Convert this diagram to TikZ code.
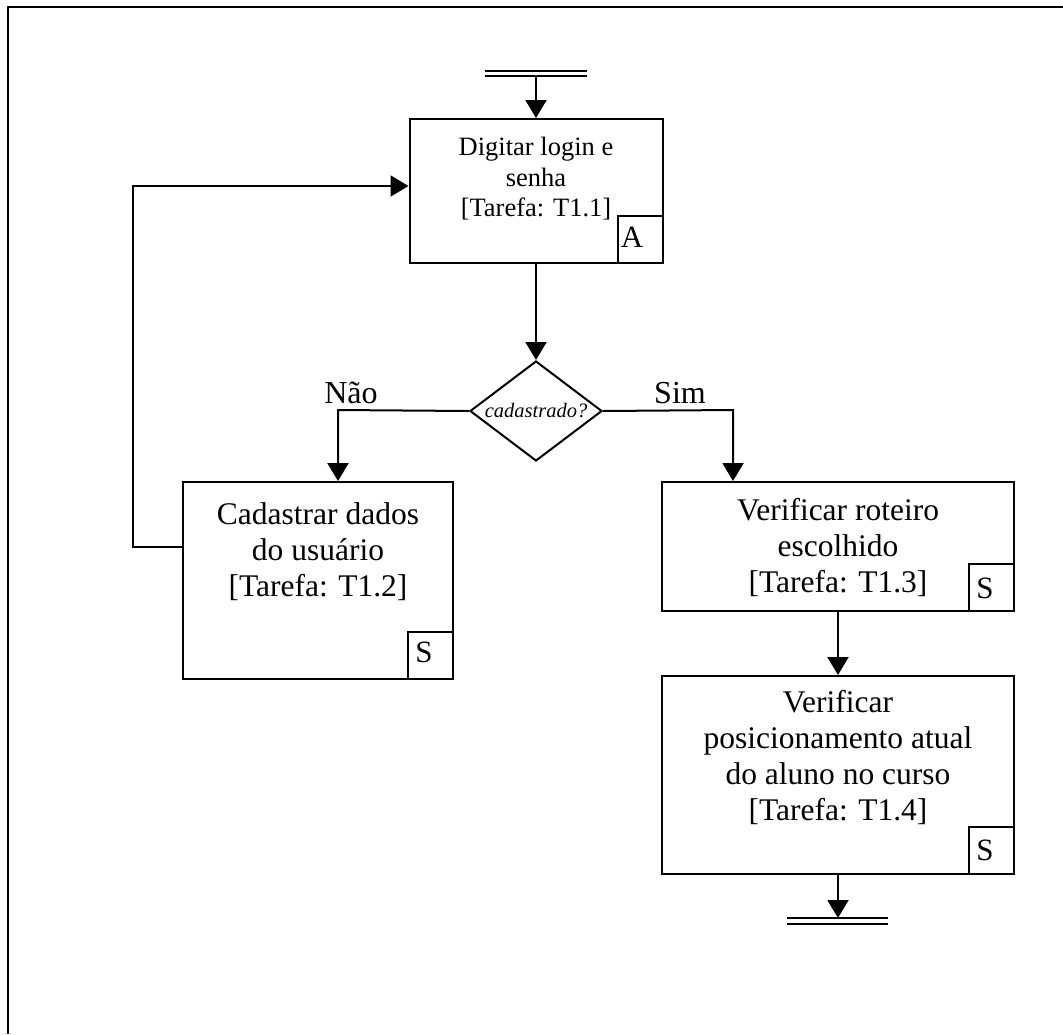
\documentclass[tikz,border=0pt]{standalone}
\usepackage{fontspec}
\setmainfont{Liberation Serif}
\usetikzlibrary{arrows.meta,shapes.geometric}
\begin{document}
\begin{tikzpicture}[x=1pt,y=-1pt,
  line width=2pt,
  arr/.style={-{Triangle[length=18pt,width=21pt]}},
  task/.style={draw, rectangle, inner sep=0pt},
  tag/.style={draw, rectangle, inner sep=0pt, minimum width=45pt, minimum height=47pt, anchor=south east},
  bigtxt/.style={align=center, inner sep=0pt, font=\fontsize{31.5}{36}\selectfont},
  smalltxt/.style={align=center, inner sep=0pt, font=\fontsize{26.5}{30.5}\selectfont},
  tagtxt/.style={anchor=base, inner sep=0pt, font=\fontsize{31}{36}\selectfont},
  lbl/.style={anchor=base, inner sep=0pt, font=\fontsize{32}{36}\selectfont}]
\useasboundingbox (0,0) rectangle (1063,1034);

% page frame, open at the right and at the bottom
\draw[line width=2.4pt] (8,1034) -- (8,7) -- (1063,7);

% start bar
\draw (485,71) -- (587,71) (485,76) -- (587,76);
\coordinate (st) at (536,76);

% T1.1
\node[task, minimum width=253pt, minimum height=144pt] (A) at (536,191) {};
\node[smalltxt] (At) at (536,179) {Digitar login e\\senha\\{[Tarefa: T1.1]}};
\node[tag] (Atag) at (A.south east) {};
\node[tagtxt] (Al) at (632,247) {A};

% decision
\node[draw, diamond, shape aspect=1.32, minimum width=132pt, minimum height=100pt,
      inner sep=0pt, font=\fontsize{20.5}{24}\selectfont\itshape] (d) at (536,411) {cadastrado?};
\node[lbl] (nao) at (351,403) {Não};
\node[lbl] (sim) at (680,403) {Sim};

% T1.2
\node[task, minimum width=270pt, minimum height=197pt] (T12) at (318,580.5) {};
\node[bigtxt] (T12t) at (318,552) {Cadastrar dados\\do usuário\\{[Tarefa: T1.2]}};
\node[tag] (T12tag) at (T12.south east) {};
\node[tagtxt] (T12s) at (424,662) {S};

% T1.3
\node[task, minimum width=352pt, minimum height=129pt] (T13) at (838,546.5) {};
\node[bigtxt] (T13t) at (838,548) {Verificar roteiro\\escolhido\\{[Tarefa: T1.3]}};
\node[tag] (T13tag) at (T13.south east) {};
\node[tagtxt] (T13s) at (985,598) {S};

% T1.4
\node[task, minimum width=352pt, minimum height=198pt] (T14) at (838,775) {};
\node[bigtxt] (T14t) at (838,758) {Verificar\\posicionamento atual\\do aluno no curso\\{[Tarefa: T1.4]}};
\node[tag] (T14tag) at (T14.south east) {};
\node[tagtxt] (T14s) at (985,860) {S};

% end bar
\draw (787,918) -- (888,918) (787,924) -- (888,924);
\coordinate (en) at (838,918);

% routing points
\coordinate (nk) at (338,410);
\coordinate (sk) at (733,410);
\coordinate (fb) at (133,547);
\coordinate (fa) at (133,186);

% connectors
\draw[arr] (st) -- (A.north);
\draw[arr] (A.south) -- (d.north);
\draw[arr] (d.west) -- (nk) -- (nk |- T12.north);
\draw[arr] (d.east) -- (sk) -- (sk |- T13.north);
\draw[arr] (T13.south) -- (T14.north);
\draw[arr] (T14.south) -- (en);
\draw[arr] (fb -| T12.west) -- (fb) -- (fa) -- (fa -| A.west);
\end{tikzpicture}
\end{document}
